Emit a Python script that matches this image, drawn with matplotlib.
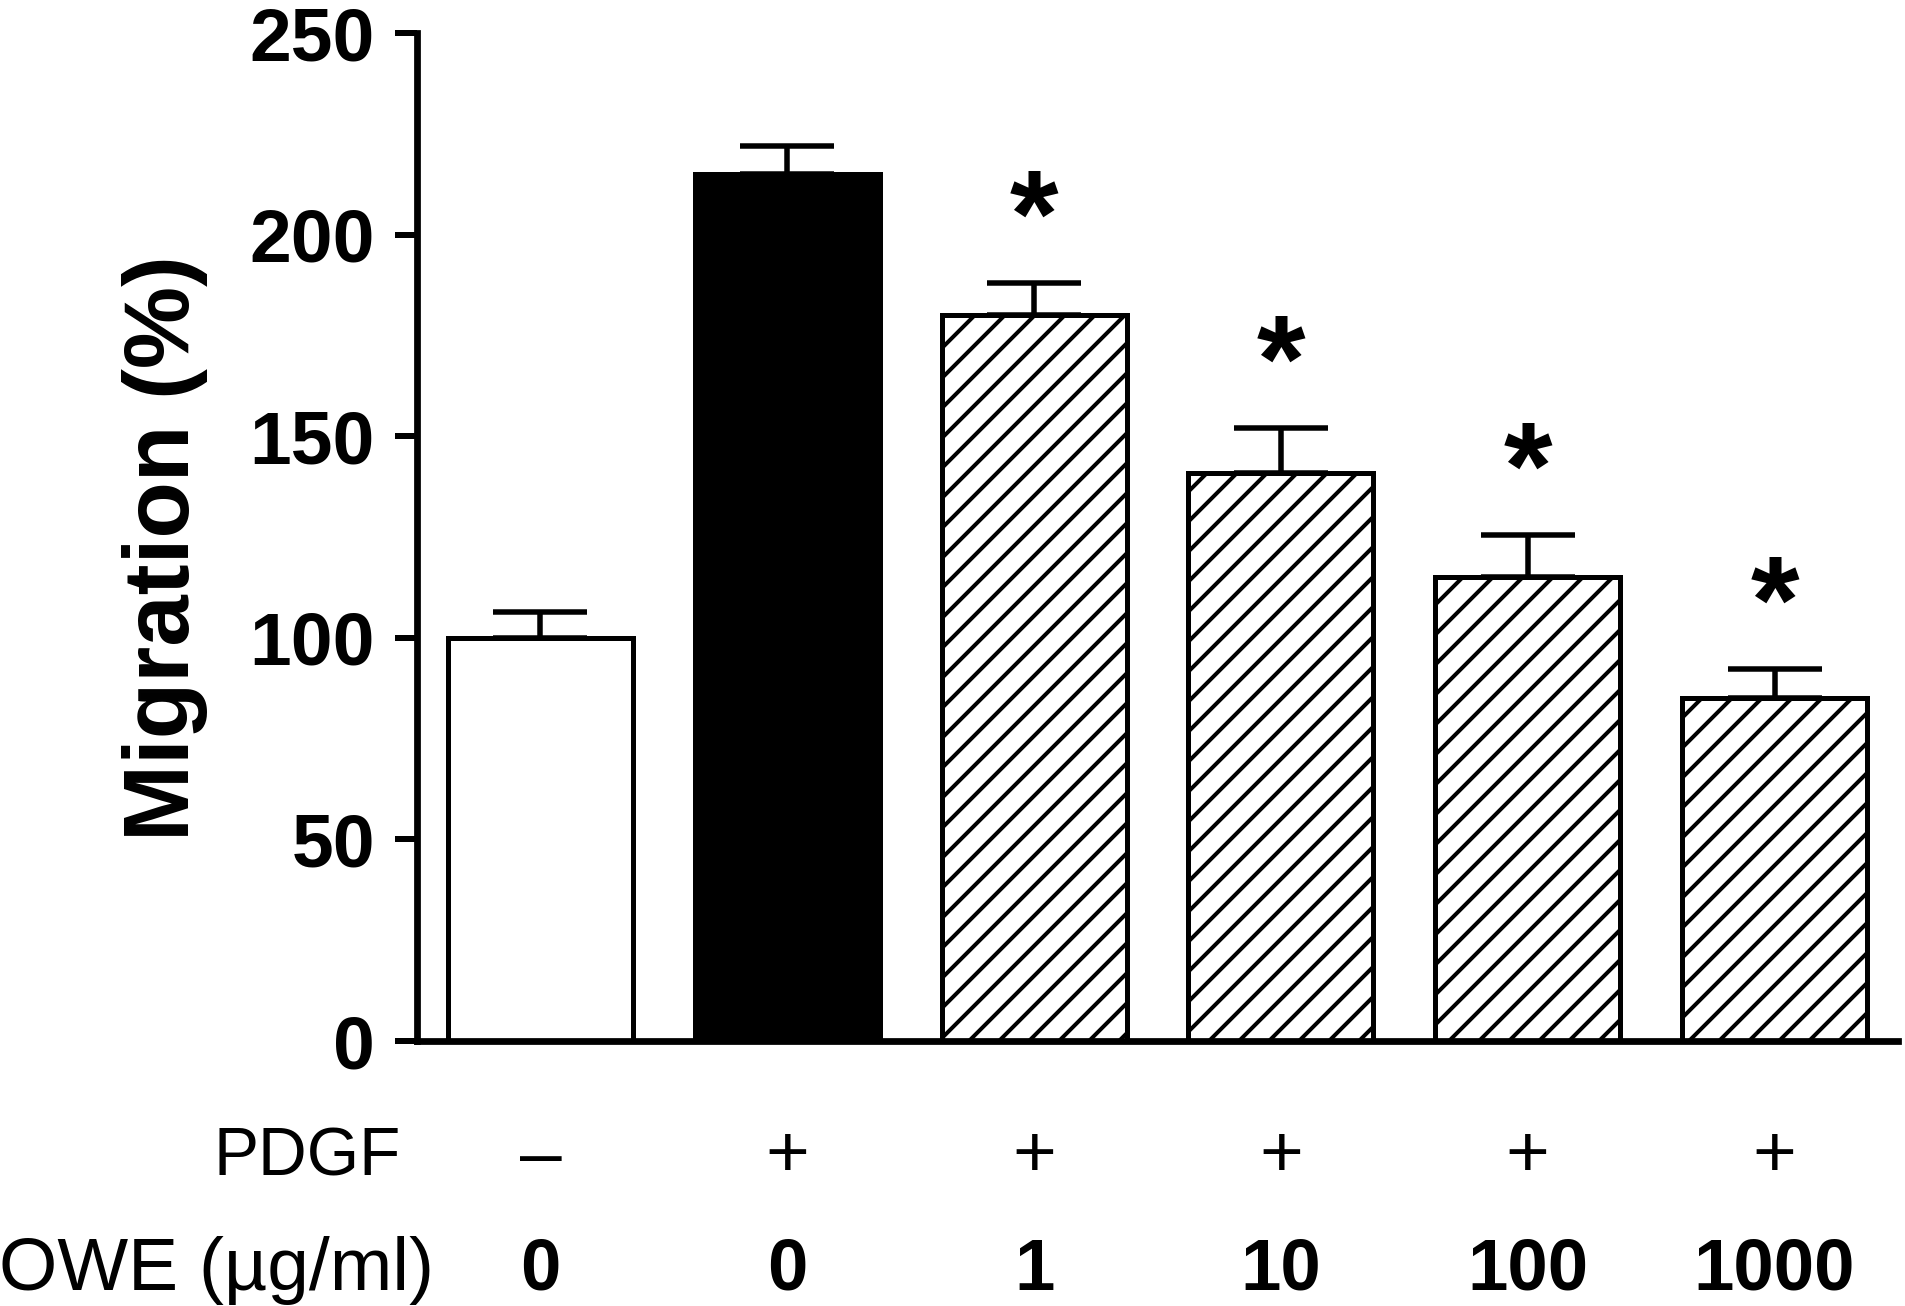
import numpy as np
import matplotlib
matplotlib.use('Agg')
import matplotlib.pyplot as plt
import matplotlib.transforms as mtransforms

plt.rcParams['font.family'] = ['Liberation Sans', 'DejaVu Sans']
plt.rcParams['hatch.linewidth'] = 1.6
plt.rcParams['hatch.color'] = 'black'

# data
pdgf = ['–', '+', '+', '+', '+', '+']
owe = ['0', '0', '1', '10', '100', '1000']
migration = [100, 215, 180, 141, 115, 85]
sem = [6.5, 7, 8, 11, 10.5, 7.3]
significant = [False, False, True, True, True, True]

fills = ['white', 'black', 'white', 'white', 'white', 'white']
hatches = ['', '', '//', '//', '//', '//']

fig = plt.figure(figsize=(1905 / 180, 1306 / 180), dpi=180)
ax = fig.add_axes([0.2189, 0.2029, 0.9963 - 0.2189, 0.9747 - 0.2029])

x = np.arange(len(migration))
bars = ax.bar(x, migration, width=0.75, color=fills, edgecolor='black', linewidth=2.0, zorder=2)
for b, h in zip(bars, hatches):
    b.set_hatch(h)

ax.errorbar(x, migration, yerr=[np.zeros(len(sem)), sem], fmt='none', ecolor='black',
            elinewidth=2.2, capsize=18.6, capthick=2.2, zorder=3)

# asterisks above the error bars
for xi, v, e, s in zip(x, migration, sem, significant):
    if s:
        ax.text(xi, v + e + 6.5, '*', ha='center', va='baseline', fontsize=50, fontweight='bold')

ax.set_xlim(-0.5, 5.5)
ax.set_ylim(0, 250)
ax.set_yticks([0, 50, 100, 150, 200, 250])
ax.set_xticks([])
ax.tick_params(axis='y', length=8.8, width=2.4, pad=8, labelsize=30)
for lab in ax.get_yticklabels():
    lab.set_fontweight('bold')

ax.spines['top'].set_visible(False)
ax.spines['right'].set_visible(False)
ax.spines['left'].set_linewidth(2.7)
ax.spines['bottom'].set_linewidth(2.7)

ax.set_ylabel('Migration (%)', fontsize=37, fontweight='bold')
ax.yaxis.set_label_coords(-0.141, 0.489)

# condition rows under the axis
trans = mtransforms.blended_transform_factory(ax.transData, fig.transFigure)
for xi, p, o in zip(x, pdgf, owe):
    ax.text(xi, 0.114, p, transform=trans, ha='center', va='center', fontsize=30)
    ax.text(xi, 0.0125, o, transform=trans, ha='center', va='baseline', fontsize=29, fontweight='bold')

fig.text(401 / 1905, 0.114, 'PDGF', ha='right', va='center', fontsize=27)
fig.text(434 / 1905, 0.0125, 'OWE (µg/ml)', ha='right', va='baseline', fontsize=30)

fig.savefig('out.png', dpi=180, facecolor='white')
